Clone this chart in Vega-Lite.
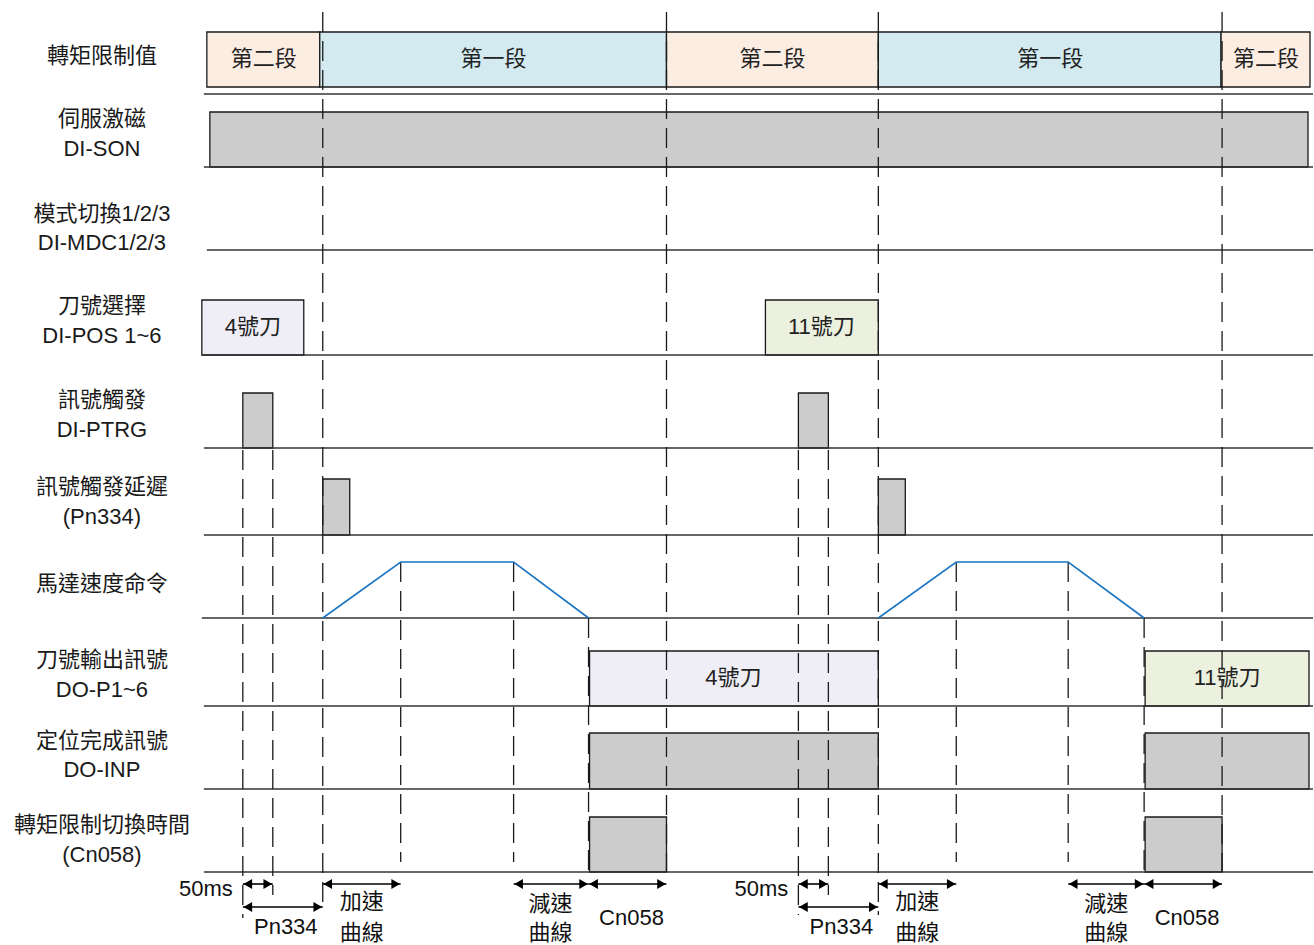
{
  "$schema": "https://vega.github.io/schema/vega-lite/v6.json",
  "width": 1314,
  "height": 945,
  "autosize": {"type": "fit", "contains": "padding"},
  "padding": 0,
  "background": "white",
  "config": {"view": {"stroke": null}},
  "datasets": {
    "boxes": [
      {"x": 207, "x2": 320, "y": 32, "y2": 87, "kind": "seg2"},
      {"x": 320, "x2": 667, "y": 32, "y2": 87, "kind": "seg1"},
      {"x": 667, "x2": 879, "y": 32, "y2": 87, "kind": "seg2"},
      {"x": 879, "x2": 1222, "y": 32, "y2": 87, "kind": "seg1"},
      {"x": 1222, "x2": 1311, "y": 32, "y2": 87, "kind": "seg2"},
      {"x": 210, "x2": 1309, "y": 112, "y2": 167, "kind": "gray"},
      {"x": 202, "x2": 304, "y": 300, "y2": 355, "kind": "tool4"},
      {"x": 766, "x2": 879, "y": 300, "y2": 355, "kind": "tool11"},
      {"x": 243, "x2": 273, "y": 393, "y2": 448, "kind": "gray"},
      {"x": 799, "x2": 829, "y": 393, "y2": 448, "kind": "gray"},
      {"x": 323, "x2": 350, "y": 479, "y2": 535, "kind": "gray"},
      {"x": 879, "x2": 906, "y": 479, "y2": 535, "kind": "gray"},
      {"x": 590, "x2": 879, "y": 651, "y2": 706, "kind": "tool4"},
      {"x": 1146, "x2": 1310, "y": 651, "y2": 706, "kind": "tool11"},
      {"x": 590, "x2": 879, "y": 733, "y2": 789, "kind": "gray"},
      {"x": 1146, "x2": 1310, "y": 733, "y2": 789, "kind": "gray"},
      {"x": 590, "x2": 667, "y": 817, "y2": 872, "kind": "gray"},
      {"x": 1146, "x2": 1223, "y": 817, "y2": 872, "kind": "gray"}
    ],
    "boxlabels": [
      {"x": 264, "y": 59, "t": "第二段"},
      {"x": 494, "y": 59, "t": "第一段"},
      {"x": 773, "y": 59, "t": "第二段"},
      {"x": 1051, "y": 59, "t": "第一段"},
      {"x": 1267, "y": 59, "t": "第二段"},
      {"x": 253, "y": 327, "t": "4號刀"},
      {"x": 822, "y": 327, "t": "11號刀"},
      {"x": 734, "y": 678, "t": "4號刀"},
      {"x": 1228, "y": 678, "t": "11號刀"}
    ],
    "baselines": [
      {"x": 204, "x2": 1314, "y": 94},
      {"x": 204, "x2": 1314, "y": 167},
      {"x": 207, "x2": 1314, "y": 250},
      {"x": 202, "x2": 1314, "y": 355},
      {"x": 204, "x2": 1314, "y": 448},
      {"x": 204, "x2": 1314, "y": 535},
      {"x": 202, "x2": 1314, "y": 618},
      {"x": 204, "x2": 1314, "y": 706},
      {"x": 204, "x2": 1314, "y": 789},
      {"x": 204, "x2": 1314, "y": 872}
    ],
    "markers": [
      {"x": 243, "y": 450, "y2": 918},
      {"x": 273, "y": 450, "y2": 895},
      {"x": 323, "y": 12, "y2": 905},
      {"x": 401, "y": 562, "y2": 862},
      {"x": 514, "y": 562, "y2": 862},
      {"x": 589, "y": 618, "y2": 872},
      {"x": 667, "y": 12, "y2": 872},
      {"x": 799, "y": 450, "y2": 915},
      {"x": 829, "y": 450, "y2": 895},
      {"x": 879, "y": 12, "y2": 915},
      {"x": 957, "y": 562, "y2": 862},
      {"x": 1069, "y": 562, "y2": 862},
      {"x": 1145, "y": 618, "y2": 872},
      {"x": 1223, "y": 12, "y2": 872}
    ],
    "speed": [
      {"seg": "a", "o": 1, "x": 323, "y": 618},
      {"seg": "a", "o": 2, "x": 401, "y": 562},
      {"seg": "a", "o": 3, "x": 514, "y": 562},
      {"seg": "a", "o": 4, "x": 589, "y": 618},
      {"seg": "b", "o": 1, "x": 879, "y": 618},
      {"seg": "b", "o": 2, "x": 957, "y": 562},
      {"seg": "b", "o": 3, "x": 1069, "y": 562},
      {"seg": "b", "o": 4, "x": 1145, "y": 618}
    ],
    "arrows": [
      {"x": 243, "x2": 273, "y": 884},
      {"x": 243, "x2": 323, "y": 907},
      {"x": 323, "x2": 401, "y": 884},
      {"x": 514, "x2": 589, "y": 884},
      {"x": 589, "x2": 667, "y": 884},
      {"x": 799, "x2": 829, "y": 884},
      {"x": 799, "x2": 879, "y": 907},
      {"x": 879, "x2": 957, "y": 884},
      {"x": 1069, "x2": 1145, "y": 884},
      {"x": 1145, "x2": 1223, "y": 884}
    ],
    "notes": [
      {"x": 206, "y": 889, "t": "50ms"},
      {"x": 286, "y": 927, "t": "Pn334"},
      {"x": 362, "y": 902, "t": "加速"},
      {"x": 362, "y": 933, "t": "曲線"},
      {"x": 551, "y": 904, "t": "減速"},
      {"x": 551, "y": 933, "t": "曲線"},
      {"x": 632, "y": 918, "t": "Cn058"},
      {"x": 762, "y": 889, "t": "50ms"},
      {"x": 842, "y": 927, "t": "Pn334"},
      {"x": 918, "y": 902, "t": "加速"},
      {"x": 918, "y": 933, "t": "曲線"},
      {"x": 1107, "y": 904, "t": "減速"},
      {"x": 1107, "y": 933, "t": "曲線"},
      {"x": 1188, "y": 918, "t": "Cn058"}
    ],
    "labels": [
      {"x": 102, "y": 56, "t": "轉矩限制值"},
      {"x": 102, "y": 119, "t": "伺服激磁"},
      {"x": 102, "y": 149, "t": "DI-SON"},
      {"x": 102, "y": 214, "t": "模式切換1/2/3"},
      {"x": 102, "y": 243, "t": "DI-MDC1/2/3"},
      {"x": 102, "y": 306, "t": "刀號選擇"},
      {"x": 102, "y": 336, "t": "DI-POS 1~6"},
      {"x": 102, "y": 400, "t": "訊號觸發"},
      {"x": 102, "y": 430, "t": "DI-PTRG"},
      {"x": 102, "y": 487, "t": "訊號觸發延遲"},
      {"x": 102, "y": 517, "t": "(Pn334)"},
      {"x": 102, "y": 584, "t": "馬達速度命令"},
      {"x": 102, "y": 660, "t": "刀號輸出訊號"},
      {"x": 102, "y": 690, "t": "DO-P1~6"},
      {"x": 102, "y": 741, "t": "定位完成訊號"},
      {"x": 102, "y": 770, "t": "DO-INP"},
      {"x": 102, "y": 825, "t": "轉矩限制切換時間"},
      {"x": 102, "y": 855, "t": "(Cn058)"}
    ]
  },
  "layer": [
    {
      "data": {"name": "boxes"},
      "mark": {"type": "rect", "stroke": "#1a1a1a", "strokeWidth": 1.3},
      "encoding": {
        "x": {"field": "x", "type": "quantitative", "scale": {"domain": [0, 1314], "nice": false, "zero": false}, "axis": null},
        "x2": {"field": "x2"},
        "y": {"field": "y", "type": "quantitative", "scale": {"domain": [945, 0], "nice": false, "zero": false}, "axis": null},
        "y2": {"field": "y2"},
        "color": {"field": "kind", "type": "nominal", "legend": null,
          "scale": {"domain": ["seg2", "seg1", "gray", "tool4", "tool11"], "range": ["#fcede3", "#d2eaf0", "#cccccc", "#efeef6", "#ebf1de"]}}
      }
    },
    {
      "data": {"name": "baselines"},
      "mark": {"type": "rule", "color": "#333333", "strokeWidth": 1.6},
      "encoding": {
        "x": {"field": "x", "type": "quantitative"},
        "x2": {"field": "x2"},
        "y": {"field": "y", "type": "quantitative"}
      }
    },
    {
      "data": {"name": "markers"},
      "mark": {"type": "rule", "color": "#1a1a1a", "strokeWidth": 1.3, "strokeDash": [20, 9]},
      "encoding": {
        "x": {"field": "x", "type": "quantitative"},
        "y": {"field": "y", "type": "quantitative"},
        "y2": {"field": "y2"}
      }
    },
    {
      "data": {"name": "speed"},
      "mark": {"type": "line", "color": "#1b75c3", "strokeWidth": 1.6},
      "encoding": {
        "x": {"field": "x", "type": "quantitative"},
        "y": {"field": "y", "type": "quantitative"},
        "detail": {"field": "seg", "type": "nominal"},
        "order": {"field": "o", "type": "quantitative"}
      }
    },
    {
      "data": {"name": "boxlabels"},
      "mark": {"type": "text", "font": "Liberation Sans, Noto Sans CJK TC", "fontSize": 22, "color": "#222222", "align": "center", "baseline": "middle"},
      "encoding": {
        "x": {"field": "x", "type": "quantitative"},
        "y": {"field": "y", "type": "quantitative"},
        "text": {"field": "t"}
      }
    },
    {
      "data": {"name": "arrows"},
      "mark": {"type": "rule", "color": "#000000", "strokeWidth": 1.6},
      "encoding": {
        "x": {"field": "x", "type": "quantitative"},
        "x2": {"field": "x2"},
        "y": {"field": "y", "type": "quantitative"}
      }
    },
    {
      "data": {"name": "arrows"},
      "mark": {"type": "point", "shape": "triangle-left", "filled": true, "color": "#000000", "size": 100, "opacity": 1, "xOffset": 5},
      "encoding": {
        "x": {"field": "x", "type": "quantitative"},
        "y": {"field": "y", "type": "quantitative"}
      }
    },
    {
      "data": {"name": "arrows"},
      "mark": {"type": "point", "shape": "triangle-right", "filled": true, "color": "#000000", "size": 100, "opacity": 1, "xOffset": -5},
      "encoding": {
        "x": {"field": "x2", "type": "quantitative"},
        "y": {"field": "y", "type": "quantitative"}
      }
    },
    {
      "data": {"name": "notes"},
      "mark": {"type": "text", "font": "Liberation Sans, Noto Sans CJK TC", "fontSize": 22, "color": "#111111", "align": "center", "baseline": "middle"},
      "encoding": {
        "x": {"field": "x", "type": "quantitative"},
        "y": {"field": "y", "type": "quantitative"},
        "text": {"field": "t"}
      }
    },
    {
      "data": {"name": "labels"},
      "mark": {"type": "text", "font": "Liberation Sans, Noto Sans CJK TC", "fontSize": 22, "color": "#1a1a1a", "align": "center", "baseline": "middle"},
      "encoding": {
        "x": {"field": "x", "type": "quantitative"},
        "y": {"field": "y", "type": "quantitative"},
        "text": {"field": "t"}
      }
    }
  ]
}
